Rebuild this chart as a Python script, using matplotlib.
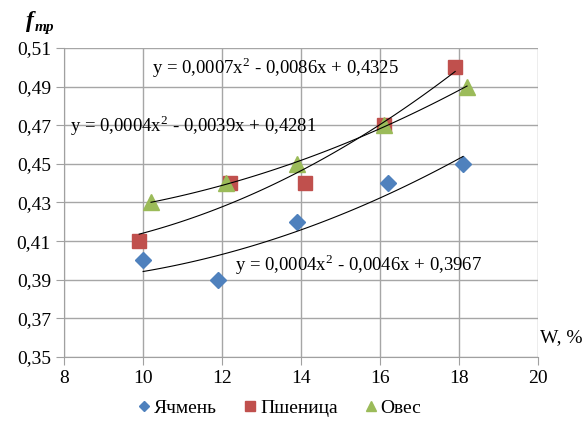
import matplotlib
matplotlib.use("Agg")
import matplotlib.pyplot as plt
import numpy as np

plt.rcParams['font.family'] = ['Liberation Serif', 'DejaVu Serif']
plt.rcParams['mathtext.fontset'] = 'custom'
plt.rcParams['mathtext.rm'] = 'Liberation Serif'

# данные с графика
w_barley = [10.0, 11.9, 13.9, 16.2, 18.1]
f_barley = [0.40, 0.39, 0.42, 0.44, 0.45]
w_wheat = [9.9, 12.2, 14.1, 16.1, 17.9]
f_wheat = [0.41, 0.44, 0.44, 0.47, 0.50]
w_oats = [10.2, 12.1, 13.9, 16.1, 18.2]
f_oats = [0.43, 0.44, 0.45, 0.47, 0.49]

eq_barley = "y = 0,0004x$^2$ - 0,0046x + 0,3967"
eq_wheat = "y = 0,0007x$^2$ - 0,0086x + 0,4325"
eq_oats = "y = 0,0004x$^2$ - 0,0039x + 0,4281"

x_ticks = [8, 10, 12, 14, 16, 18, 20]
y_ticks = [0.35, 0.37, 0.39, 0.41, 0.43, 0.45, 0.47, 0.49, 0.51]

fig = plt.figure(figsize=(5.83, 4.24), dpi=100)
ax = fig.add_axes([0.110, 0.158, 0.813, 0.729])

series = [
    (w_barley, f_barley, 'D', '#4F81BD', 8, 'Ячмень'),
    (w_wheat, f_wheat, 's', '#C0504D', 10, 'Пшеница'),
    (w_oats, f_oats, '^', '#9BBB59', 11, 'Овес'),
]
for x, y, m, c, ms, name in series:
    ax.plot(x, y, m, color=c, markersize=ms, linestyle='none', label=name, zorder=3)
    # полиномиальный тренд 2-й степени
    p = np.polyfit(x, y, 2)
    xx = np.linspace(min(x), max(x), 100)
    ax.plot(xx, np.polyval(p, xx), color='black', linewidth=0.8, zorder=4)

ax.set_xlim(8, 20)
ax.set_ylim(0.35, 0.51)
ax.set_xticks(x_ticks)
ax.set_yticks(y_ticks)
ax.set_yticklabels([f"{v:.2f}".replace('.', ',') for v in y_ticks])
ax.tick_params(labelsize=14, color='#a0a0a0', length=6, direction='out')
ax.grid(True, color='#a6a6a6', linewidth=1)
ax.set_axisbelow(True)
for s in ['top', 'right']:
    ax.spines[s].set_visible(False)
for s in ['left', 'bottom']:
    ax.spines[s].set_color('#a0a0a0')

fig.text(152 / 583, 1 - 68 / 424, eq_wheat, fontsize=13.5, va='center', ha='left')
fig.text(70 / 583, 1 - 126 / 424, eq_oats, fontsize=13.5, va='center', ha='left')
fig.text(235 / 583, 1 - 265 / 424, eq_barley, fontsize=13.5, va='center', ha='left')

fig.text(26 / 583, 1 - 22 / 424, "f", fontsize=17, fontstyle='italic', fontweight='bold',
         va='center', ha='left')
fig.text(35 / 583, 1 - 27 / 424, "тр", fontsize=11, fontstyle='italic', fontweight='bold',
         va='center', ha='left')
fig.text(561 / 583, 1 - 338 / 424, "W, %", fontsize=14, va='center', ha='center')

fig.legend(loc='center', bbox_to_anchor=(278 / 583, 1 - 408 / 424), ncol=3,
           frameon=False, fontsize=14, handletextpad=0.0, columnspacing=1.2,
           markerscale=0.7, handlelength=1.0)

fig.savefig("out.png", dpi=100)
